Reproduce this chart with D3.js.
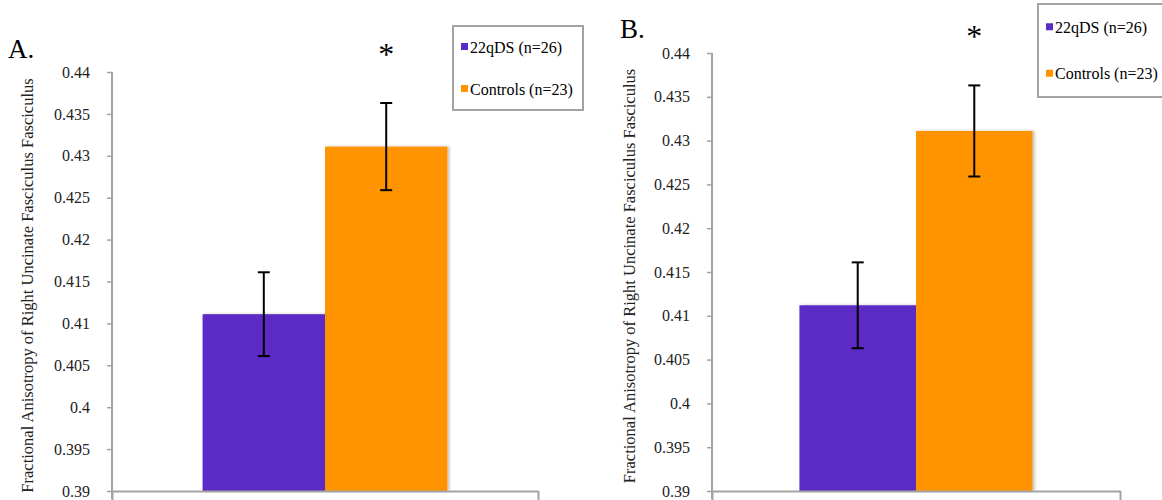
<!DOCTYPE html>
<html>
<head>
<meta charset="utf-8">
<script src="https://cdn.jsdelivr.net/npm/d3@7"></script>
<style>
  body { margin: 0; background: #fff; }
  svg text { font-family: "Liberation Serif", "Times New Roman", serif; }
</style>
</head>
<body>
<script>
// data (both panels)
groups = ["22qDS (n=26)", "Controls (n=23)"];
colors = ["#5c2ac5", "#ff9400"];
meansA = [0.4111, 0.4311];
errA = [0.0050, 0.0052];
meansB = [0.4112, 0.4311];
errB = [0.0049, 0.0052];
yTicks = [0.39, 0.395, 0.40, 0.405, 0.41, 0.415, 0.42, 0.425, 0.43, 0.435, 0.44];
yTickLabels = ["0.39", "0.395", "0.4", "0.405", "0.41", "0.415", "0.42", "0.425", "0.43", "0.435", "0.44"];
yLabel = "Fractional Anisotropy of Right Uncinate Fasciculus Fasciculus";
starFlags = [false, true];

w = 1162;
h = 500;
serif = "'Liberation Serif', 'Times New Roman', serif";

svg = d3.select("body")
  .append("svg")
    .attr("width", w)
    .attr("height", h);

// soft shadow on the bars
defs = svg.append("defs");
f = defs.append("filter").attr("id", "shadow")
  .attr("x", "-10%").attr("y", "-10%").attr("width", "130%").attr("height", "130%");
f.append("feDropShadow")
  .attr("dx", 2).attr("dy", 0).attr("stdDeviation", 1.5)
  .attr("flood-color", "#000").attr("flood-opacity", 0.25);

drawPanel({
  letter: "A.", letterX: 8, letterY: 58,
  left: 112, right: 538, top: 72, bottom: 491, outerPad: 0.37,
  labelX: 27,
  legend: {x: 453, y: 26, w: 130, h: 84},
  means: meansA, errs: errA
});

drawPanel({
  letter: "B.", letterX: 620, letterY: 38,
  left: 712, right: 1120, top: 53, bottom: 491, outerPad: 0.375,
  labelX: 629,
  legend: {x: 1038, y: 4, w: 130, h: 93},
  means: meansB, errs: errB
});

function drawPanel(p) {
  var g = svg.append("g");

  var y = d3.scaleLinear()
    .domain([0.39, 0.44])
    .range([p.bottom, p.top]);

  var x0 = d3.scaleBand()
    .domain(["FA"])
    .range([p.left, p.right])
    .paddingInner(0)
    .paddingOuter(p.outerPad);

  var x1 = d3.scaleBand()
    .domain(groups)
    .range([0, x0.bandwidth()]);

  var rows = groups.map((gr, i) => ({group: gr, mean: p.means[i], err: p.errs[i], color: colors[i], star: starFlags[i]}));

  // y axis
  var yAxis = g.append("g")
    .attr("transform", "translate(" + p.left + ",0)")
    .call(d3.axisLeft(y)
      .tickValues(yTicks)
      .tickFormat((d, i) => yTickLabels[i])
      .tickSizeInner(5)
      .tickSizeOuter(0)
      .tickPadding(17));
  yAxis.attr("font-family", serif).attr("font-size", 16);
  yAxis.select(".domain").attr("stroke", "#a3a3a3").attr("stroke-width", 2)
    .attr("d", "M0," + p.top + "V" + (p.bottom + 8));
  yAxis.selectAll(".tick line").attr("stroke", "#a3a3a3").attr("stroke-width", 1.5);
  yAxis.selectAll(".tick text")
    .attr("fill", "#222")
    .attr("font-family", serif)
    .attr("font-size", 16);

  // bars
  g.selectAll("rect.bar")
    .data(rows)
    .enter()
    .append("rect")
      .attr("class", "bar")
      .attr("x", d => x0("FA") + x1(d.group))
      .attr("width", x1.bandwidth())
      .attr("y", d => y(d.mean))
      .attr("height", d => y(0.39) - y(d.mean))
      .attr("fill", d => d.color)
      .attr("filter", "url(#shadow)");

  // x axis (no labels)
  var xs = d3.scaleLinear().domain([0, 1]).range([p.left, p.right]);
  var xAxis = g.append("g")
    .attr("transform", "translate(0," + p.bottom + ")")
    .call(d3.axisBottom(xs).tickValues([0, 1]).tickFormat("").tickSizeInner(9).tickSizeOuter(0));
  xAxis.select(".domain").attr("stroke", "#a3a3a3").attr("stroke-width", 2);
  xAxis.selectAll(".tick line").attr("stroke", "#a3a3a3").attr("stroke-width", 2);

  // error bars
  var cx = d => x0("FA") + x1(d.group) + x1.bandwidth() / 2;
  var eb = g.selectAll("g.err")
    .data(rows)
    .enter()
    .append("g")
      .attr("class", "err")
      .attr("stroke", "#000")
      .attr("stroke-width", 2);
  eb.append("line")
    .attr("x1", cx).attr("x2", cx)
    .attr("y1", d => y(d.mean + d.err)).attr("y2", d => y(d.mean - d.err));
  eb.append("line")
    .attr("x1", d => cx(d) - 6).attr("x2", d => cx(d) + 6)
    .attr("y1", d => y(d.mean + d.err)).attr("y2", d => y(d.mean + d.err));
  eb.append("line")
    .attr("x1", d => cx(d) - 6).attr("x2", d => cx(d) + 6)
    .attr("y1", d => y(d.mean - d.err)).attr("y2", d => y(d.mean - d.err));

  // significance star
  g.selectAll("text.star")
    .data(rows.filter(d => d.star))
    .enter()
    .append("text")
      .attr("class", "star")
      .attr("x", cx)
      .attr("y", d => y(d.mean + d.err) - 38)
      .attr("text-anchor", "middle")
      .attr("font-family", serif)
      .attr("font-size", 32)
      .text("*");

  // y label
  g.append("text")
    .attr("transform", "translate(" + p.labelX + "," + ((p.top + p.bottom) / 2 + 4) + ") rotate(-90)")
    .attr("text-anchor", "middle")
    .attr("dominant-baseline", "central")
    .attr("fill", "#222")
    .attr("font-family", serif)
    .attr("font-size", 16.5)
    .text(yLabel);

  // panel letter
  g.append("text")
    .attr("x", p.letterX)
    .attr("y", p.letterY)
    .attr("font-family", serif)
    .attr("font-size", 27)
    .text(p.letter);

  // legend
  var lg = g.append("g").attr("transform", "translate(" + p.legend.x + "," + p.legend.y + ")");
  lg.append("rect")
    .attr("width", p.legend.w).attr("height", p.legend.h)
    .attr("fill", "#fff").attr("stroke", "#a3a3a3").attr("stroke-width", 2);
  var step = p.legend.h / 2;
  var items = lg.selectAll("g.item")
    .data(rows)
    .enter()
    .append("g")
      .attr("class", "item")
      .attr("transform", (d, i) => "translate(8," + (step * i + step / 2) + ")");
  items.append("rect")
    .attr("y", -4).attr("width", 7).attr("height", 7)
    .attr("fill", d => d.color);
  items.append("text")
    .attr("x", 9).attr("y", 0)
    .attr("dominant-baseline", "central")
    .attr("font-family", serif)
    .attr("font-size", 16)
    .text(d => d.group);
}
</script>
</body>
</html>
